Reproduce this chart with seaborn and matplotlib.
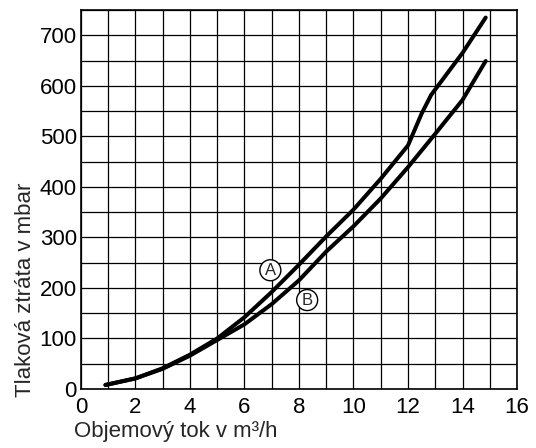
import numpy as np
import pandas as pd
import matplotlib
matplotlib.use("Agg")
import matplotlib.pyplot as plt
import seaborn as sns

# curve A (upper) and curve B
flow_a = [0.9, 2, 3, 4, 5, 6, 7, 8, 9, 10, 11, 12.0, 12.5, 12.85, 14, 14.85]
loss_a = [8, 21, 41, 68, 100, 142, 192, 246, 302, 355, 416, 482, 545, 582, 665, 735]
flow_b = [0.9, 2, 3, 4, 5, 6, 7, 8, 9, 10, 11, 12, 13, 14, 14.85]
loss_b = [8, 21, 40, 66, 97, 128, 168, 215, 272, 322, 377, 439, 505, 572, 649]

x_ticks = list(range(0, 17, 2))
y_ticks = list(range(0, 701, 100))

df = pd.concat([
    pd.DataFrame({"flow": flow_a, "loss": loss_a, "curve": "A"}),
    pd.DataFrame({"flow": flow_b, "loss": loss_b, "curve": "B"}),
])

sns.set_style("white")
plt.rcParams["font.family"] = ["Liberation Sans", "DejaVu Sans"]

fig = plt.figure(figsize=(5.36, 4.48), dpi=100)
ax = fig.add_axes([0.151, 0.1317, 0.8136, 0.846])

sns.lineplot(data=df, x="flow", y="loss", hue="curve", palette=["black", "black"],
             sort=False, estimator=None, linewidth=2.9, legend=False, ax=ax, zorder=3)

ax.set_xlim(0, 16)
ax.set_ylim(0, 750)
ax.set_xticks(np.arange(0, 17, 1), minor=True)
ax.set_yticks(np.arange(0, 751, 50), minor=True)
ax.set_xticks(x_ticks)
ax.set_yticks(y_ticks)
ax.grid(True, which="both", color="black", linewidth=0.9)
ax.tick_params(which="both", length=0, labelsize=16, pad=6, colors="black")
ax.tick_params(axis="y", pad=3)
for s in ax.spines.values():
    s.set_color("black")
    s.set_linewidth(1.2)

ax.set_xlabel("Objemový tok v m³/h", fontsize=16, ha="left", va="center")
ax.xaxis.set_label_coords(-0.016, -0.112)
ax.set_ylabel("Tlaková ztráta v mbar", fontsize=16, ha="left", va="center")
ax.yaxis.set_label_coords(-0.128, -0.021)

circ = dict(boxstyle="circle,pad=0.18", fc="white", ec="black", lw=1.0)
ax.text(6.95, 235, "A", fontsize=12, ha="center", va="center", bbox=circ, zorder=4)
ax.text(8.3, 176, "B", fontsize=12, ha="center", va="center", bbox=circ, zorder=4)

fig.savefig("out.png", dpi=100)
